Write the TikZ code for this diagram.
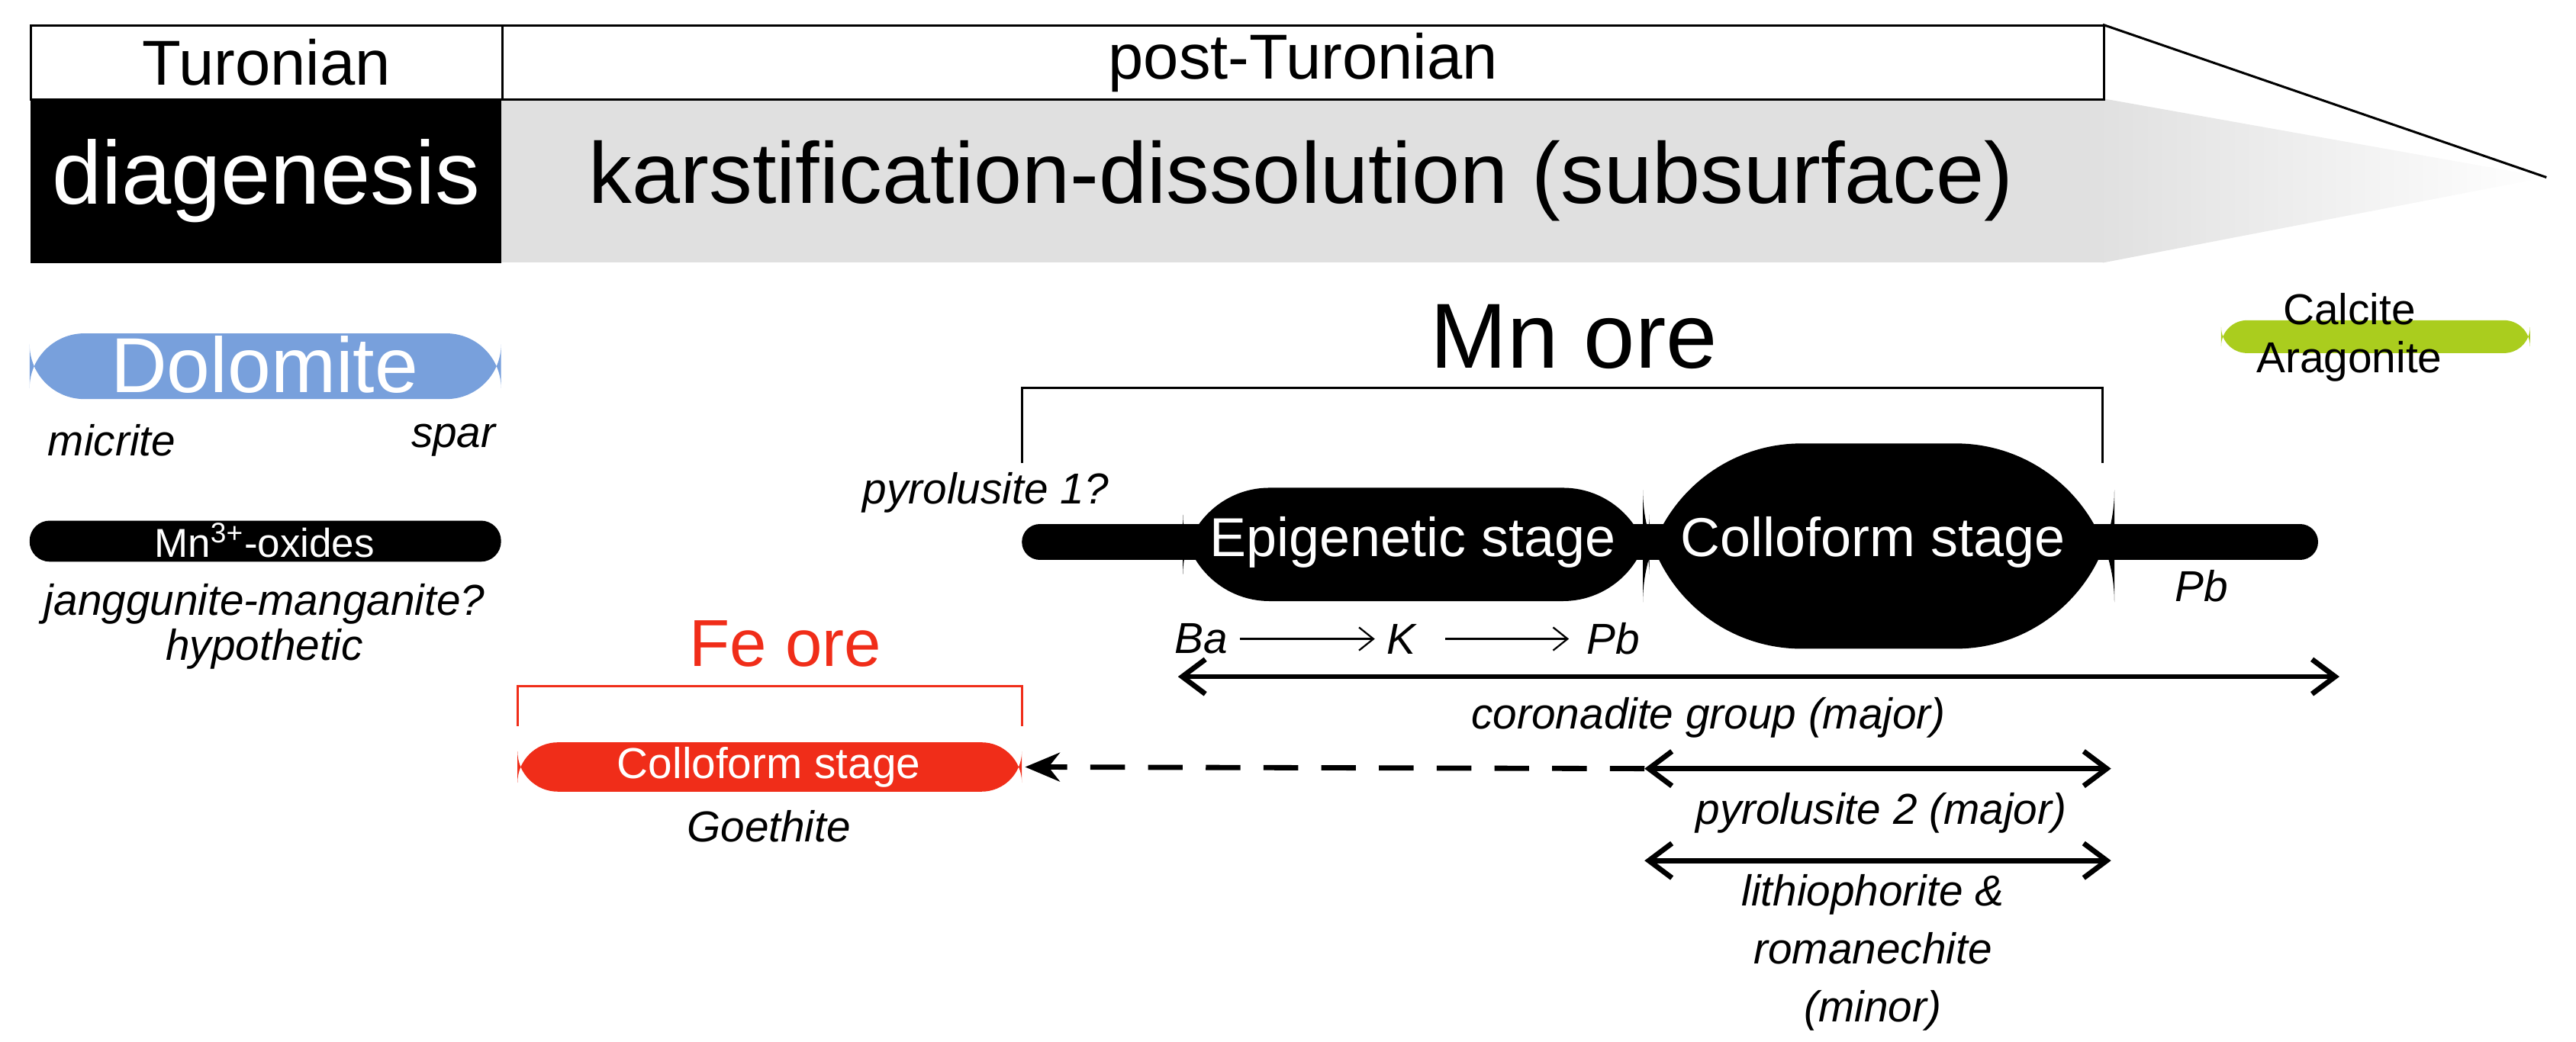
\documentclass[tikz,border=0pt]{standalone}
\usepackage{fontspec}
\setmainfont{Liberation Sans}
\usetikzlibrary{arrows.meta,shadings}
\definecolor{dolo}{RGB}{120,160,220}
\definecolor{calc}{RGB}{170,205,30}
\definecolor{fered}{RGB}{240,45,25}
\begin{document}
\begin{tikzpicture}[x=0.02cm,y=-0.02cm,
  sm/.style={font=\fontsize{15}{17}\selectfont\itshape,inner sep=0},
  dar/.style={{Straight Barb[length=8pt,width=12pt]}-{Straight Barb[length=8pt,width=12pt]},line width=1.8pt}]
\useasboundingbox (0,0) rectangle (1568,634);
% header
\shade[left color=black!12,right color=white,draw=none] (1280,60) -- (1550,108) -- (1280,160) -- cycle;
\fill[black!12] (305,60) rectangle (1280,160);
\draw[line width=0.8pt] (1280,15) -- (1550,108);
\node[draw,line width=0.8pt,minimum width=287*0.02cm,minimum height=45*0.02cm,anchor=north west,inner sep=0,font=\fontsize{22}{24}\selectfont] (tur) at (18,15) {Turonian};
\node[draw,line width=0.8pt,minimum width=975*0.02cm,minimum height=45*0.02cm,anchor=north west,inner sep=0,font=\fontsize{22}{24}\selectfont] (post) at (305,15) {post-Turonian};
\node[fill=black,text=white,minimum width=287*0.02cm,minimum height=100*0.02cm,anchor=north west,inner sep=0,font=\fontsize{31}{33}\selectfont] (dia) at (18,60) {diagenesis};
\node[font=\fontsize{30}{32}\selectfont,inner sep=0] (kar) at (792,110) {karstification-dissolution (subsurface)};
% dolomite
\fill[rounded corners=19pt,fill=dolo] (18,203) rectangle (305,243);
\node[text=white,font=\fontsize{27}{29}\selectfont,inner sep=0] (dol) at (161,222) {Dolomite};
\node[sm] (mic) at (68,268) {micrite};
\node[sm] (spar) at (276,268) {spar};
\fill[rounded corners=7pt] (18,317) rectangle (305,342);
\node[text=white,font=\fontsize{14}{16}\selectfont,inner sep=0] (mn3) at (161,329) {Mn\textsuperscript{3+}-oxides};
\node[sm] (jan) at (161,368) {janggunite-manganite?};
\node[sm] (hyp) at (161,395) {hypothetic};
% Fe ore
\node[text=fered,font=\fontsize{23}{25}\selectfont,inner sep=0] (fe) at (478,392) {Fe ore};
\draw[fered,line width=0.8pt] (315,442) -- (315,418) -- (622,418) -- (622,442);
\fill[rounded corners=14pt,fill=fered] (315,452) rectangle (622,482);
\node[text=white,font=\fontsize{15}{17}\selectfont,inner sep=0] (fec) at (468,467) {Colloform stage};
\node[sm] (goe) at (468,503) {Goethite};
% Mn ore
\node[font=\fontsize{32}{34}\selectfont,inner sep=0] (mn) at (958,205) {Mn ore};
\draw[line width=0.8pt] (622,282) -- (622,236) -- (1280,236) -- (1280,282);
\node[sm] (py1) at (600,300) {pyrolusite 1?};
\draw[line width=22*0.02cm,line cap=round] (633,330) -- (1400,330);
\fill[rounded corners=30pt] (720,297) rectangle (1004,366);
\node[text=white,font=\fontsize{19}{21}\selectfont,inner sep=0] (epi) at (860,330) {Epigenetic stage};
\fill[rounded corners=55pt] (1000,270) rectangle (1287,395);
\node[text=white,font=\fontsize{19}{21}\selectfont,inner sep=0] (col) at (1140,330) {Colloform stage};
\node[sm] (pb1) at (1340,357) {Pb};
\node[sm] (ba) at (731,389) {Ba};
\node[sm] (k) at (853,389) {K};
\node[sm] (pb) at (982,389) {Pb};
\draw[-{Straight Barb[length=5pt,width=8pt]},line width=0.6pt] ([xshift=4pt]ba.east) -- ([xshift=-4pt]k.west);
\draw[-{Straight Barb[length=5pt,width=8pt]},line width=0.6pt] ([xshift=10pt]k.east) -- ([xshift=-6pt]pb.west);
\coordinate (c1) at (717,412); \coordinate (c2) at (1424,412);
\draw[dar] (c1) -- (c2);
\node[sm] (cor) at (1040,437) {coronadite group (major)};
\coordinate (d1) at (1001,468); \coordinate (d2) at (1285,468);
\draw[dar] (d1) -- (d2);
\coordinate (fe1) at (624,467);
\draw[dash pattern=on 12pt off 8pt,line width=1.8pt,-{Stealth[length=12pt,width=10pt]}] (d1) -- (fe1);
\node[sm] (py2) at (1145,495) {pyrolusite 2 (major)};
\coordinate (e1) at (1001,524); \coordinate (e2) at (1285,524);
\draw[dar] (e1) -- (e2);
\node[sm,align=center] (lit) at (1140,580) {lithiophorite \&\\[3pt]romanechite\\[3pt](minor)};
% calcite
\fill[rounded corners=9pt,fill=calc] (1352,195) rectangle (1540,215);
\node[font=\fontsize{15}{17}\selectfont,inner sep=0] (cal) at (1430,188) {Calcite};
\node[font=\fontsize{15}{17}\selectfont,inner sep=0] (ara) at (1430,220) {Aragonite};
\end{tikzpicture}
\end{document}
